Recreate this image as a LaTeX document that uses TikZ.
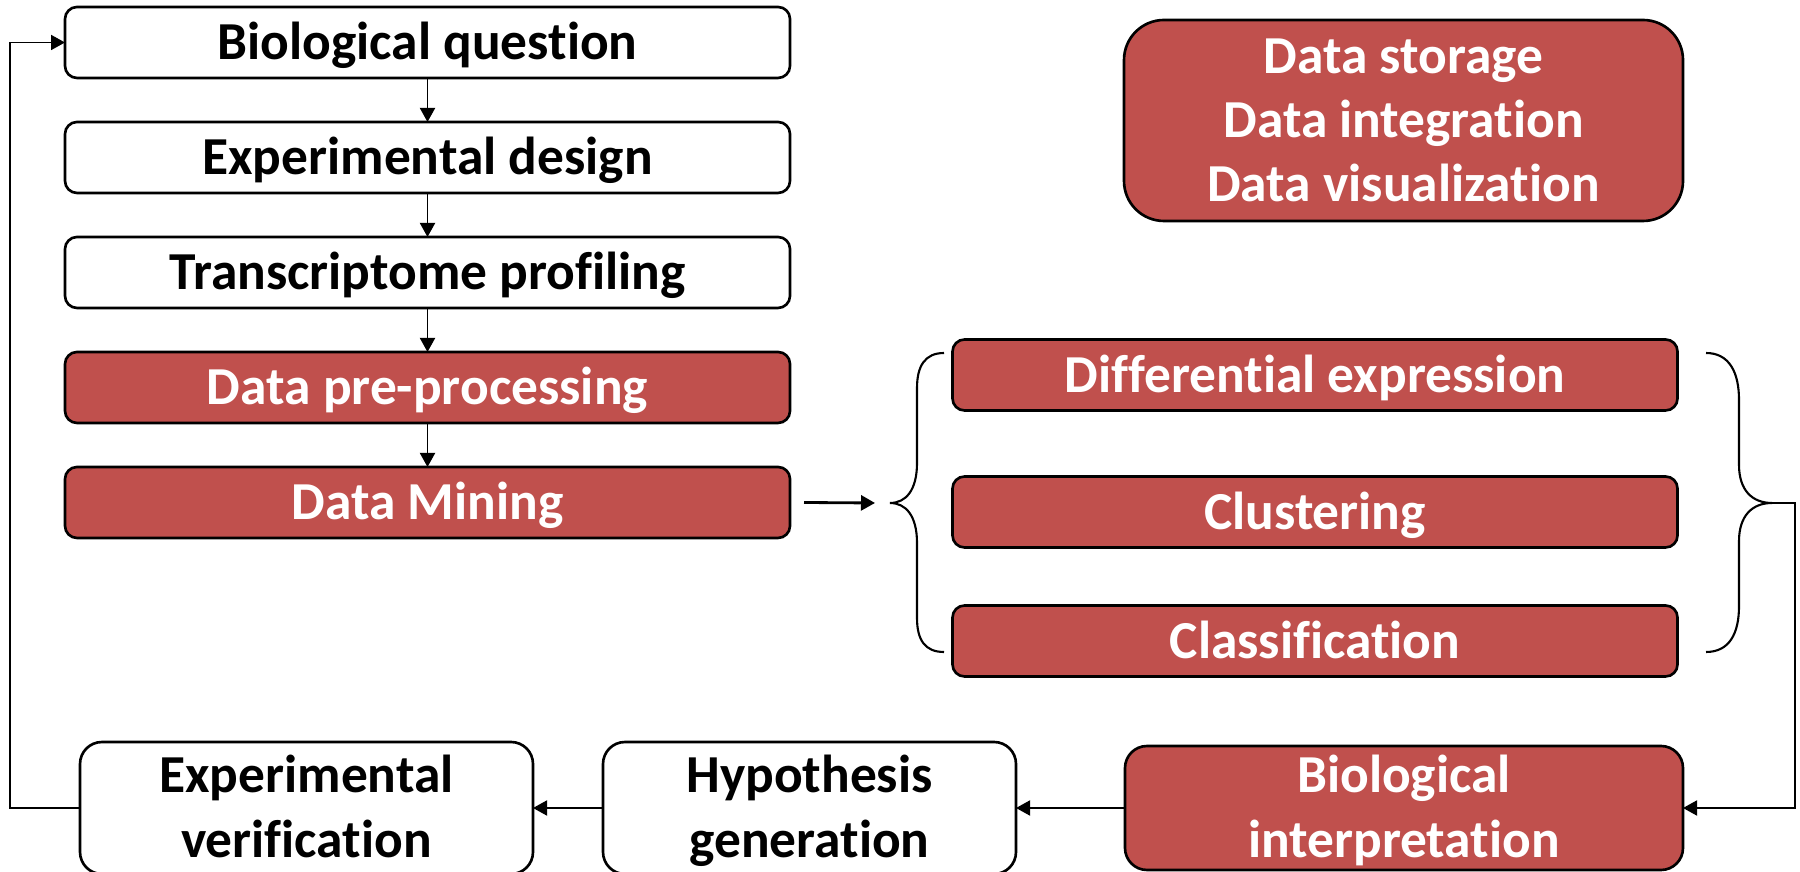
\documentclass[tikz,border=0pt]{standalone}
\usepackage{fontspec}
\setmainfont{Carlito}[Ligatures=NoCommon]
\usepackage{tikz}
\usetikzlibrary{arrows.meta,positioning}
\definecolor{boxred}{HTML}{C0504D}

\begin{document}
\begin{tikzpicture}[
    x=0.1mm, y=-0.1mm,
    node distance=4.4mm,
    stage/.style={draw, rounded corners=1.2mm, align=center, inner sep=0pt, outer sep=0pt,
                minimum width=72.5mm, minimum height=7.1mm, line width=0.75pt,
                text height=9.7pt, text depth=0pt,
                font=\fontsize{15.2}{18.3}\selectfont\bfseries},
    plain/.style={stage, fill=white},
    hilite/.style={stage, fill=boxred, text=white},
    twoline/.style={text height=28pt},
    threeline/.style={text height=46.3pt},
    loopbox/.style={twoline, minimum height=13.2mm, rounded corners=2.2mm},
    conn/.style={line width=0.55pt, -{Triangle[length=1.4mm, width=1.5mm]}},
    brace/.style={line width=0.6pt}
]
\useasboundingbox (0,0) rectangle (1800,872);
\clip (0,0) rectangle (1800,872);

% main pipeline
\node[plain] (question) at (427.5,42.5) {Biological question};
\node[plain, below=of question] (design) {Experimental design};
\node[plain, below=of design] (profiling) {Transcriptome profiling};
\node[hilite, below=of profiling] (preproc) {Data pre-processing};
\node[hilite, below=of preproc] (mining) {Data Mining};

\draw[conn] (question) -- (design);
\draw[conn] (design) -- (profiling);
\draw[conn] (profiling) -- (preproc);
\draw[conn] (preproc) -- (mining);

% data management
\node[hilite, threeline, minimum width=55.9mm, minimum height=20.1mm, rounded corners=4mm] (storage)
  at (1403.5,120.5) {Data storage\\Data integration\\Data visualization};

% mining methods
\node[hilite] (diffexpr) at (1315,375) {Differential expression};
\node[hilite, below=6.6mm of diffexpr] (cluster) {Clustering};
\node[hilite, below=5.8mm of cluster] (classif) {Classification};

\coordinate (ltip) at (890,503);
\coordinate (rtip) at (1772,503);
\draw[brace] (944,353) .. controls (925,353) and (917,366) .. (917,388) -- (917,463)
  .. controls (917,490) and (906,503) .. (ltip) .. controls (906,503) and (917,516) .. (917,543)
  -- (917,618) .. controls (917,640) and (925,652) .. (944,652);
\draw[brace] (1706,353) .. controls (1729,353) and (1739,372) .. (1739,400) -- (1739,465)
  .. controls (1739,490) and (1752,503) .. (rtip) .. controls (1752,503) and (1739,516) .. (1739,541)
  -- (1739,606) .. controls (1739,634) and (1729,652) .. (1706,652);

\draw[conn, line width=0.8pt] ([xshift=1.4mm]mining.east) -- ([xshift=-1.5mm]ltip);

% feedback loop
\node[hilite, loopbox, minimum width=55.8mm, minimum height=12.4mm] (interp) at (1404,808)
  {Biological\\interpretation};
\node[plain, loopbox, minimum width=41.3mm, left=10.9mm of interp] (hypo) {Hypothesis\\generation};
\node[plain, loopbox, minimum width=45.3mm, left=7mm of hypo] (verif) {Experimental\\verification};

\draw[conn] (rtip) -- ++(23,0) |- (interp.east);
\draw[conn] (interp) -- (hypo);
\draw[conn] (hypo) -- (verif);
\draw[conn] (verif.west) -- ++(-70,0) |- (question.west);

\end{tikzpicture}
\end{document}
